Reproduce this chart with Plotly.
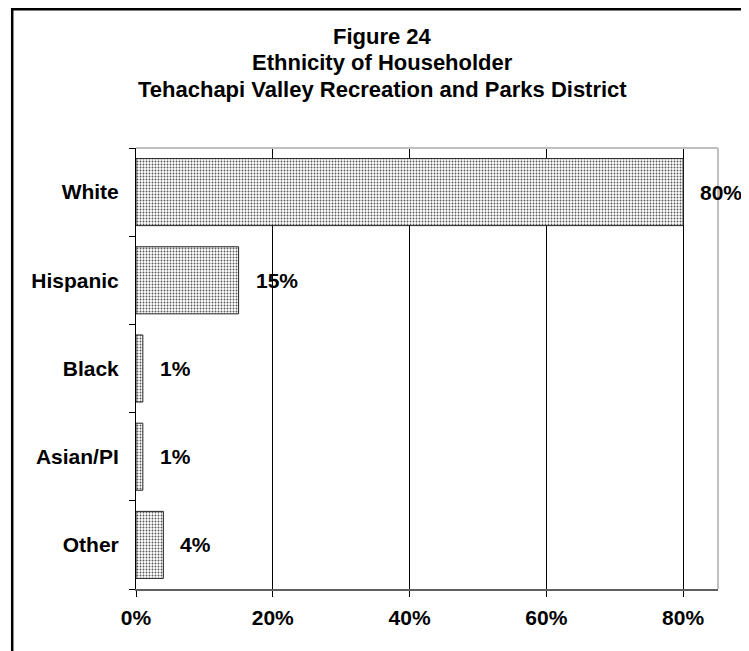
import plotly.graph_objects as go

categories = ["White", "Hispanic", "Black", "Asian/PI", "Other"]
values = [80, 15, 1, 1, 4]
value_labels = ["80%", "15%", "1%", "1%", "4%"]
x_ticks = [0, 20, 40, 60, 80]
x_tick_labels = ["0%", "20%", "40%", "60%", "80%"]
title_lines = ["Figure 24", "Ethnicity of Householder", "Tehachapi Valley Recreation and Parks District"]

FONT = "Liberation Sans, Arial, sans-serif"
W, H = 741, 643
L, R, T, B = 128, 31, 140, 62
PW, PH = W - L - R, H - T - B

fig = go.Figure(go.Bar(
    y=categories,
    x=values,
    orientation="h",
    marker=dict(
        color="white",
        line=dict(color="#222222", width=1),
        pattern=dict(shape=".", size=3, solidity=0.3, fgcolor="#555555", bgcolor="white", fillmode="replace"),
    ),
    hoverinfo="skip",
))

annotations = []
for c, v, t in zip(categories, values, value_labels):
    annotations.append(dict(
        x=v, y=c, xref="x", yref="y", text=f"<b>{t}</b>", showarrow=False,
        xanchor="left", yanchor="middle", xshift=15,
        font=dict(family=FONT, size=21, color="black"),
    ))

# title lines, bottom of last line box ~95 px below figure top
n = len(title_lines)
for i, line in enumerate(title_lines):
    bottom_px = 95.5 - (n - 1 - i) * 26
    annotations.append(dict(
        text=f"<b>{line}</b>",
        xref="paper", yref="paper", x=(382 - 8 - L) / PW, y=(T + PH - bottom_px) / PH,
        xanchor="center", yanchor="bottom", showarrow=False,
        font=dict(family=FONT, size=22, color="black"), align="center",
    ))

fig.update_layout(
    width=W, height=H,
    margin=dict(l=L, r=R, t=T, b=B),
    paper_bgcolor="white", plot_bgcolor="white",
    bargap=0.24,
    showlegend=False,
    font=dict(family=FONT, color="black"),
    annotations=annotations,
    shapes=[
        dict(type="rect", xref="paper", yref="paper",
             x0=(4.2 - L) / PW, x1=1.5, y0=-0.5, y1=(T + PH - 1.25) / PH,
             line=dict(color="black", width=2.5), fillcolor="rgba(0,0,0,0)", layer="below"),
        dict(type="line", xref="paper", yref="paper", x0=0, x1=1, y0=1, y1=1,
             line=dict(color="#c0c0c0", width=2)),
        dict(type="line", xref="paper", yref="paper", x0=1, x1=1, y0=0, y1=1,
             line=dict(color="#c0c0c0", width=2)),
    ],
)

fig.update_xaxes(
    range=[0, 85.1],
    tickvals=x_ticks, ticktext=[f"<b>{t}</b>" for t in x_tick_labels],
    tickfont=dict(family=FONT, size=21, color="black"),
    showgrid=True, gridcolor="black", gridwidth=1,
    zeroline=False,
    showline=True, linecolor="#606060", linewidth=2,
    ticks="outside", ticklen=6, tickcolor="black", tickwidth=1,
    ticklabelstandoff=3,
    fixedrange=True,
)
fig.update_yaxes(
    categoryorder="array", categoryarray=categories, autorange="reversed",
    tickvals=categories, ticktext=[f"<b>{c}</b>" for c in categories],
    tickfont=dict(family=FONT, size=21, color="black"),
    showline=True, linecolor="black", linewidth=1,
    ticks="outside", tickson="boundaries", ticklen=6, tickcolor="black",
    ticklabelstandoff=12,
    showgrid=False,
    fixedrange=True,
)

fig.write_html("out.html")
